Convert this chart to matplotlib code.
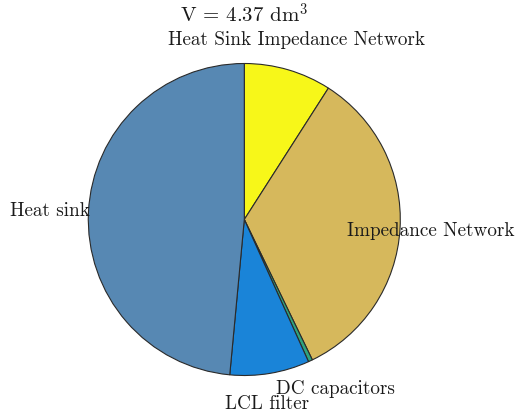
import matplotlib
matplotlib.use("Agg")
import matplotlib.pyplot as plt

# volume breakdown in dm^3, clockwise from 12 o'clock
parts = ["Heat Sink Impedance Network", "Impedance Network",
         "DC capacitors", "LCL filter", "Heat sink"]
volumes = [0.396, 1.475, 0.019, 0.360, 2.120]
colors = ["#F7F719", "#D6B85C", "#2FA37E", "#1A84D8", "#5788B3"]
total = 4.37

# small sideways nudges so the bottom labels don't crowd each other
label_dx = [0.0, 0.0, 0.075, -0.05, -0.045]

plt.rcParams["font.family"] = "cmr10"
plt.rcParams["mathtext.fontset"] = "cm"
plt.rcParams["axes.formatter.use_mathtext"] = True

W, H = 518, 413
fig = plt.figure(figsize=(W / 100, H / 100), dpi=100)
cx, cy, r = 244.3, 219.5, 156
ax = fig.add_axes([(cx - r) / W, (H - cy - r) / H, 2 * r / W, 2 * r / H])

wedges, texts = ax.pie(volumes, labels=parts, colors=colors,
                       startangle=90, counterclock=False,
                       labeldistance=1.2,
                       wedgeprops=dict(edgecolor="#2a2a2a", linewidth=0.8),
                       textprops=dict(fontsize=13.8, color="#1a1a1a"))
for t, dx in zip(texts, label_dx):
    x, y = t.get_position()
    t.set_position((x + dx, y))
    t.set_ha("center")
    t.set_va("center")

ax.set_xlim(-1, 1)
ax.set_ylim(-1, 1)
ax.set_aspect("equal")
ax.set_title(r"V = %.2f dm$^3$" % total, fontsize=15, color="#1a1a1a",
             y=1.13, pad=0)

fig.savefig("out.png", dpi=100, facecolor="white")
